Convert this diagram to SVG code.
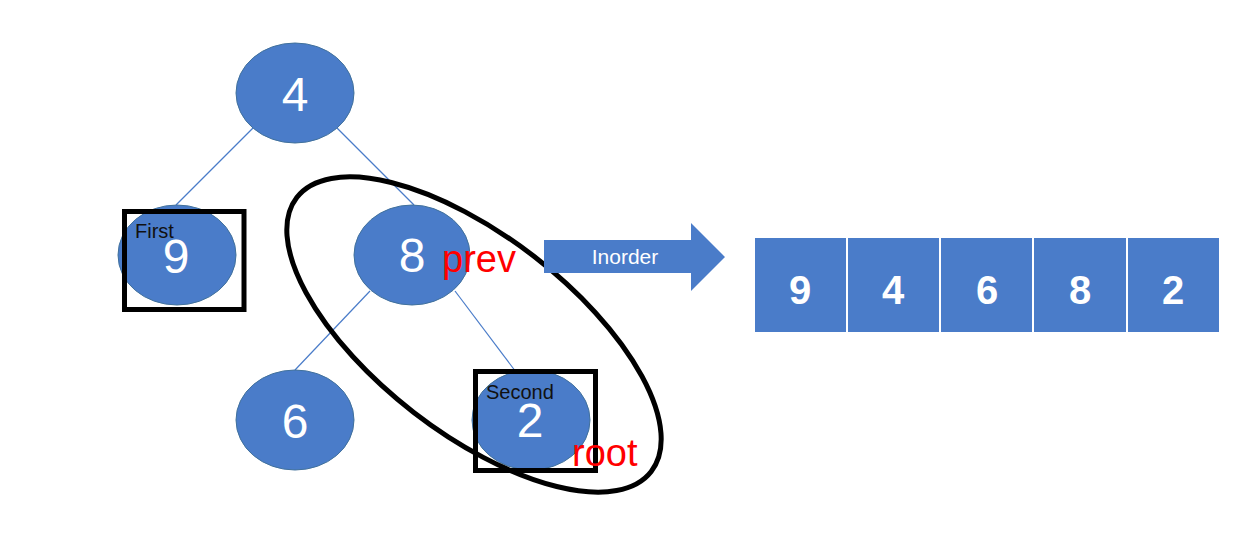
<svg xmlns="http://www.w3.org/2000/svg" width="1240" height="557" viewBox="0 0 1240 557">
<style>
.node{fill:#4a7cc9;stroke:#41719c;stroke-width:1}
.num{font-family:"Liberation Sans",Arial,sans-serif;font-size:48px;fill:#fff;text-anchor:middle}
.edge{stroke:#4a7cc9;stroke-width:1.2;fill:none}
.box{fill:none;stroke:#000;stroke-width:5}
.lbl{font-family:"Liberation Sans",Arial,sans-serif;font-size:20px;fill:#111}
.red{font-family:"Liberation Sans",Arial,sans-serif;font-size:38px;fill:#f00}
.cell{fill:#4a7cc9;stroke:#fff;stroke-width:2}
.cnum{font-family:"Liberation Sans",Arial,sans-serif;font-size:40px;font-weight:bold;fill:#fff;text-anchor:middle}
</style>
<rect width="1240" height="557" fill="#fff"/>
<g id="connectors">
<line class="edge" x1="253" y1="128" x2="176" y2="205"/>
<line class="edge" x1="337" y1="128" x2="414" y2="205"/>
<line class="edge" x1="370" y1="291" x2="295" y2="370"/>
<line class="edge" x1="455" y1="291" x2="516" y2="372"/>
</g>
<g id="node4"><ellipse class="node" cx="295" cy="93" rx="59" ry="50"/><text class="num" x="295" y="111">4</text></g>
<g id="node9"><ellipse class="node" cx="177" cy="255" rx="59" ry="50"/><text class="num" x="176" y="273">9</text></g>
<g id="node8"><ellipse class="node" cx="412" cy="255" rx="58" ry="50"/><text class="num" x="412" y="272">8</text></g>
<g id="node6"><ellipse class="node" cx="295" cy="420" rx="59" ry="50"/><text class="num" x="295" y="438">6</text></g>
<g id="node2"><ellipse class="node" cx="531" cy="420" rx="59" ry="50"/><text class="num" x="530" y="437">2</text></g>
<g id="first"><rect class="box" x="124.5" y="211.5" width="119.5" height="98"/><text class="lbl" x="135" y="238">First</text></g>
<g id="second"><rect class="box" x="475.5" y="371.5" width="120" height="99"/><text class="lbl" x="486" y="399">Second</text></g>
<g id="loop"><ellipse cx="474" cy="334.5" rx="224" ry="98.5" transform="rotate(37.7 474 334.5)" fill="none" stroke="#000" stroke-width="5"/></g>
<g id="prev"><text class="red" x="442" y="272">prev</text></g>
<g id="root"><text class="red" x="572" y="466" font-size="41">root</text></g>
<g id="arrow"><polygon points="544,240 691,240 691,223 725,257 691,291 691,273 544,273" fill="#4a7cc9"/><text x="625" y="264" font-family="Liberation Sans, Arial, sans-serif" font-size="21" fill="#fff" text-anchor="middle">Inorder</text></g>
<g id="array">
<rect class="cell" x="754" y="237" width="93" height="96"/>
<rect class="cell" x="847" y="237" width="93" height="96"/>
<rect class="cell" x="940" y="237" width="93" height="96"/>
<rect class="cell" x="1033" y="237" width="94" height="96"/>
<rect class="cell" x="1127" y="237" width="93" height="96"/>
<text class="cnum" x="800" y="304">9</text>
<text class="cnum" x="893" y="304">4</text>
<text class="cnum" x="987" y="304">6</text>
<text class="cnum" x="1080" y="304">8</text>
<text class="cnum" x="1173" y="304">2</text>
</g>
</svg>
